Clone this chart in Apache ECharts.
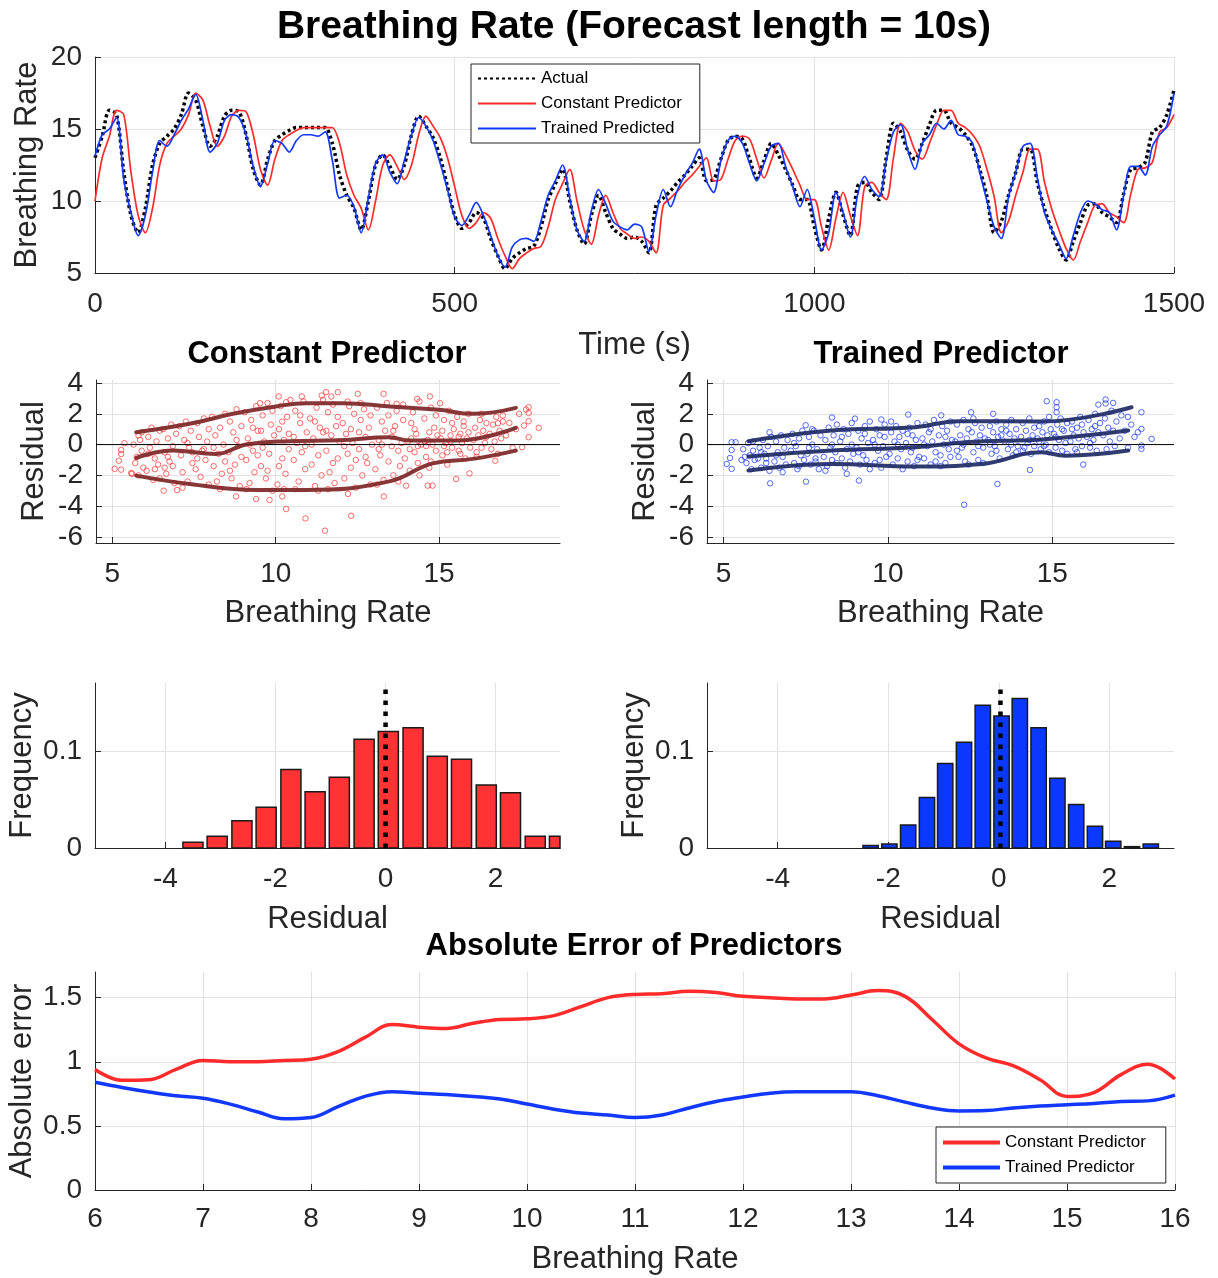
<!DOCTYPE html>
<html>
<head>
<meta charset="utf-8">
<script src="https://cdn.jsdelivr.net/npm/echarts@6/dist/echarts.min.js"></script>
<style>
  html, body { margin: 0; padding: 0; background: #ffffff; }
  #chart { width: 1218px; height: 1278px; }
</style>
</head>
<body>
<div id="chart"></div>
<script>
// ---- breathing-rate time series, one sample every 10 s from 0 to 1500 s ----
const sampleStep = 10;
const actualRate = [
  13.0, 14.5, 16.3, 16.0, 12.0, 9.0, 7.8, 9.5, 12.5, 14.0,
  14.5, 15.0, 16.0, 17.5, 17.0, 15.2, 13.8, 14.5, 15.9, 16.3,
  16.2, 14.6, 12.2, 11.1, 12.9, 14.2, 14.6, 14.9, 15.1, 15.1,
  15.1, 15.1, 15.1, 14.0, 11.8, 10.4, 9.5, 8.0, 10.0, 12.5,
  13.2, 12.4, 11.5, 12.5, 14.6, 15.9, 15.2, 14.4, 13.0, 11.0,
  9.0, 8.1, 8.5, 9.2, 8.8, 7.4, 6.2, 5.3, 6.0, 6.4,
  6.7, 6.85, 8.2, 10.1, 11.2, 12.2, 10.0, 8.0, 7.0, 9.0,
  10.4, 9.2, 8.1, 7.7, 7.4, 7.5, 7.2, 6.4, 9.7, 10.2,
  10.7, 11.3, 11.8, 12.4, 13.0, 11.4, 11.5, 12.9, 14.2, 14.5,
  14.3, 12.9, 11.6, 12.8, 14.0, 13.2, 12.2, 11.1, 10.1, 10.1,
  8.2, 6.6, 8.8, 10.6, 9.0, 7.6, 11.0, 11.3, 10.6, 10.1,
  13.0, 15.4, 14.8, 13.5, 12.9, 14.0, 15.3, 16.3, 16.3, 15.4,
  15.1, 14.6, 13.8, 12.2, 10.3, 7.8, 8.6, 10.4, 12.0, 13.6,
  13.6, 11.3, 9.45, 8.0, 6.7, 5.9, 7.2, 8.5, 9.7, 9.8,
  9.2, 8.9, 8.5, 10.5, 12.2, 12.3, 12.7, 14.8, 15.1, 16.0,
  17.7
];
const constantRate = [
  10.0, 13.0, 14.5, 16.3, 16.0, 12.0, 9.0, 7.8, 9.5, 12.5,
  14.0, 14.5, 15.0, 16.0, 17.5, 17.0, 15.2, 13.8, 14.5, 15.9,
  16.3, 16.2, 14.6, 12.2, 11.1, 12.9, 14.2, 14.6, 14.9, 15.1,
  15.1, 15.1, 15.1, 15.1, 14.0, 11.8, 10.4, 9.5, 8.0, 10.0,
  12.5, 13.2, 12.4, 11.5, 12.5, 14.6, 15.9, 15.2, 14.4, 13.0,
  11.0, 9.0, 8.1, 8.5, 9.2, 8.8, 7.4, 6.2, 5.3, 6.0,
  6.4, 6.7, 6.85, 8.2, 10.1, 11.2, 12.2, 10.0, 8.0, 7.0,
  9.0, 10.4, 9.2, 8.1, 7.7, 7.4, 7.5, 7.2, 6.4, 9.7,
  10.2, 10.7, 11.3, 11.8, 12.4, 13.0, 11.4, 11.5, 12.9, 14.2,
  14.5, 14.3, 12.9, 11.6, 12.8, 14.0, 13.2, 12.2, 11.1, 10.1,
  10.1, 8.2, 6.6, 8.8, 10.6, 9.0, 7.6, 11.0, 11.3, 10.6,
  10.1, 13.0, 15.4, 14.8, 13.5, 12.9, 14.0, 15.3, 16.3, 16.3,
  15.4, 15.1, 14.6, 13.8, 12.2, 10.3, 7.8, 8.6, 10.4, 12.0,
  13.6, 13.6, 11.3, 9.45, 8.0, 6.7, 5.9, 7.2, 8.5, 9.7,
  9.8, 9.2, 8.9, 8.5, 10.5, 12.2, 12.3, 12.7, 14.8, 15.1,
  16.0
];
const trainedRate = [
  13.1, 14.6, 15.0, 15.8, 11.5, 9.2, 7.6, 9.0, 12.0, 14.2,
  13.8, 14.6, 15.6, 16.4, 17.4, 15.6, 13.4, 14.0, 15.6, 16.0,
  15.8, 14.6, 12.4, 11.0, 12.6, 14.2, 14.0, 13.4, 14.2, 14.6,
  14.6, 14.5, 14.8, 12.8, 10.2, 10.4, 9.6, 7.8, 10.2, 12.6,
  13.2, 12.0, 11.2, 12.8, 14.6, 15.8, 15.2, 14.2, 12.6, 10.8,
  8.9, 8.3, 9.0, 9.9, 9.0, 7.6, 6.2, 5.4, 6.8, 7.3,
  7.4, 7.2, 8.6, 10.4, 11.4, 12.5, 10.2, 8.0, 7.2, 9.3,
  10.8, 9.8, 8.6, 8.2, 8.0, 8.4, 8.2, 6.5, 9.0, 10.8,
  9.6, 10.8, 11.8, 12.6, 13.6, 11.4, 10.6, 12.8, 14.2, 14.5,
  14.0, 12.6, 11.4, 12.6, 13.8, 14.0, 12.4, 11.0, 9.6, 10.8,
  8.8, 6.6, 7.8, 10.6, 9.2, 7.5, 10.4, 11.7, 10.8, 10.3,
  12.8, 14.8, 15.3, 13.5, 12.2, 14.0, 14.6, 15.4, 15.0, 15.6,
  14.6, 14.5, 14.0, 12.0, 10.0, 8.2, 7.4, 10.3, 12.0, 13.8,
  14.0, 11.6, 9.2, 8.0, 7.0, 6.0, 7.6, 9.2, 10.0, 9.8,
  9.4, 9.2, 8.0, 10.4, 12.4, 12.4, 11.8, 13.8, 14.6, 15.2,
  17.5
];
const timeTicks = { min: 0, max: 1500, step: 500 };

// ---- residual vs breathing rate: [rate, residual] ----
const constantResiduals = [
  [5.6,-1.9],[5.7,-1.2],[5.75,-0.8],[5.8,0.6],[5.85,0.3],[5.9,-0.4],[5.95,-1.5],[5.65,0.0],[5.8,-2.0],[5.9,0.8],
  [6.05,-1.7],[6.1,0.5],[6.15,-0.2],[6.2,1.1],[6.25,-2.3],[6.3,-0.9],[6.35,0.2],[6.4,-1.3],[6.45,0.9],[6.1,-0.6],[6.3,-1.6],[6.45,-2.2],
  [6.55,1.0],[6.6,-0.5],[6.65,-1.9],[6.7,0.4],[6.75,-1.1],[6.8,1.3],[6.85,-0.1],[6.9,-2.5],[6.95,0.7],[6.6,-1.5],[6.85,-1.4],[6.7,-0.8],
  [7.05,1.2],[7.1,-0.7],[7.15,-1.8],[7.2,0.3],[7.25,1.5],[7.3,-2.4],[7.35,-0.2],[7.4,0.9],[7.45,-1.2],[7.15,-2.8],[7.3,0.1],[7.45,-0.5],
  [7.55,-1.6],[7.6,1.4],[7.65,0.5],[7.7,-2.1],[7.75,-0.4],[7.8,1.7],[7.85,-1.0],[7.9,0.2],[7.95,-2.6],[7.6,-0.9],[7.8,-0.3],[7.95,1.0],
  [8.05,1.8],[8.1,-1.4],[8.15,0.6],[8.2,-2.4],[8.25,-0.6],[8.3,1.1],[8.35,-1.9],[8.4,0.0],[8.45,2.0],[8.1,-0.2],[8.3,-2.9],[8.45,-1.1],
  [8.55,-0.5],[8.6,1.5],[8.65,-2.2],[8.7,0.8],[8.75,-1.3],[8.8,2.3],[8.85,-0.1],[8.9,-2.7],[8.95,1.2],[8.6,-1.7],[8.8,0.3],[8.95,-0.8],
  [9.05,2.1],[9.1,-1.0],[9.15,0.4],[9.2,-2.5],[9.25,1.6],[9.3,-0.4],[9.35,-1.8],[9.4,2.5],[9.45,0.9],[9.1,-2.9],[9.3,1.1],[9.45,-0.7],[9.2,0.0],
  [9.55,-1.4],[9.6,1.9],[9.65,0.2],[9.7,-2.2],[9.75,2.7],[9.8,-0.6],[9.85,1.3],[9.9,-3.0],[9.95,0.6],[9.6,-0.2],[9.75,-1.7],[9.9,2.2],[9.55,0.9],
  [10.05,-2.6],[10.1,1.0],[10.15,2.5],[10.2,-0.9],[10.25,0.3],[10.3,-1.9],[10.35,1.8],[10.4,-0.3],[10.45,2.9],[10.1,-1.4],[10.25,-2.9],[10.4,0.7],[10.2,1.5],
  [10.55,-1.0],[10.6,2.2],[10.65,0.1],[10.7,-2.4],[10.75,1.4],[10.8,-0.5],[10.85,2.8],[10.9,-1.6],[10.95,0.8],[10.6,-2.9],[10.75,1.9],[10.9,-0.1],[10.55,0.5],
  [11.05,1.7],[11.1,-1.3],[11.15,0.4],[11.2,-2.7],[11.25,2.4],[11.3,-0.7],[11.35,1.1],[11.4,-2.0],[11.45,2.9],[11.1,0.0],[11.3,-3.0],[11.45,0.8],[11.2,1.5],
  [11.55,-0.4],[11.6,2.1],[11.65,-1.8],[11.7,0.6],[11.75,2.6],[11.8,-2.5],[11.85,1.2],[11.9,-0.9],[11.95,0.2],[11.6,-2.9],[11.75,-1.2],[11.9,1.8],[11.55,0.9],
  [12.05,1.4],[12.1,-2.2],[12.15,0.7],[12.2,-0.6],[12.25,2.5],[12.3,-1.5],[12.35,0.1],[12.4,2.0],[12.45,-2.8],[12.1,-0.1],[12.3,1.0],[12.45,-1.0],[12.2,2.8],
  [12.55,-0.3],[12.6,1.6],[12.65,-2.0],[12.7,2.3],[12.75,0.5],[12.8,-1.2],[12.85,1.1],[12.9,-2.6],[12.95,0.0],[12.6,2.7],[12.75,-0.8],[12.9,1.9],[12.55,0.8],
  [13.05,-1.6],[13.1,2.4],[13.15,0.3],[13.2,-0.7],[13.25,1.5],[13.3,-2.3],[13.35,0.9],[13.4,2.7],[13.45,-1.1],[13.1,-2.6],[13.25,0.0],[13.45,1.9],[13.15,-0.3],
  [13.55,0.5],[13.6,-2.0],[13.65,1.2],[13.7,2.2],[13.75,-0.4],[13.8,-1.4],[13.85,0.1],[13.9,2.6],[13.95,-0.9],[13.6,0.9],[13.75,-2.4],[13.9,1.6],[13.55,-0.1],
  [14.05,0.2],[14.1,-1.7],[14.15,1.4],[14.2,2.1],[14.25,-0.5],[14.3,0.7],[14.35,-1.2],[14.4,2.8],[14.45,0.0],[14.1,-0.3],[14.25,1.0],[14.4,-2.0],[14.15,0.4],[14.35,-0.1],
  [14.55,1.7],[14.6,-0.8],[14.65,0.3],[14.7,-1.5],[14.75,2.4],[14.8,0.0],[14.85,1.1],[14.9,-0.4],[14.95,0.6],[14.6,-0.1],[14.75,-1.1],[14.9,1.9],[14.55,0.2],[14.7,0.8],
  [15.05,0.4],[15.1,-0.7],[15.15,1.6],[15.2,0.1],[15.25,-1.3],[15.3,2.2],[15.35,0.6],[15.4,-0.2],[15.45,1.0],[15.1,0.9],[15.25,-0.5],[15.4,1.4],[15.15,-0.1],[15.35,0.2],
  [15.55,1.8],[15.6,-0.4],[15.65,0.7],[15.7,0.1],[15.75,1.2],[15.8,-0.9],[15.85,0.4],[15.9,2.0],[15.95,-0.2],[15.6,0.5],[15.75,1.5],[15.9,0.8],[15.65,-0.6],
  [16.05,0.3],[16.1,1.1],[16.15,-0.5],[16.2,0.6],[16.25,1.6],[16.3,-0.2],[16.35,0.9],[16.4,0.1],[16.45,1.4],[16.15,-0.8],[16.3,2.0],[16.45,0.5],
  [16.55,0.7],[16.6,-0.3],[16.65,1.3],[16.7,0.2],[16.75,1.8],[16.8,-0.6],[16.85,0.9],[16.9,0.4],[16.95,1.5],
  [17.05,0.6],[17.15,1.4],[17.25,-0.2],[17.35,1.0],[17.45,2.0],
  [11.51,-5.6],[10.91,-4.8],[12.31,-4.63],[10.32,-4.19],[12.21,-3.21],[13.31,-3.37],[9.4,-3.54],[9.81,-3.6],[8.79,-3.37],[10.2,-3.37],
  [6.57,-3.0],[6.98,-2.96],[5.07,-1.58],[5.27,-1.63],[5.58,-1.85],[5.2,-1.05],[5.27,-0.61],[5.27,-0.35],[5.37,0.09],
  [15.52,-2.24],[15.93,-1.87],[14.65,-2.67],[14.8,-2.67],[13.99,-2.67],[16.72,-1.05],[17.54,-0.17],
  [17.66,2.28],[17.74,2.43],[17.74,2.06],[17.74,1.52],[18.05,1.09],[17.74,0.48],[17.6,1.24],[16.95,1.89],[16.8,1.39],
  [11.41,3.19],[11.54,3.41],[11.9,3.41],[12.51,3.3],[13.3,3.3],[10.09,3.13],[10.8,3.13],[9.52,2.69],[14.33,2.97],[14.72,3.13],
  [15.03,2.69],[13.7,2.65],[11.7,3.13],[10.32,2.76]
];
const trainedResiduals = [
  [5.6,-0.3],[5.7,-1.2],[5.75,0.1],[5.8,-0.7],[5.85,-1.6],[5.9,-0.4],[5.95,-1.0],[5.65,-0.8],[5.9,0.2],
  [6.05,-0.9],[6.1,-0.2],[6.15,-1.5],[6.2,0.3],[6.25,-0.6],[6.3,-1.2],[6.35,-0.1],[6.4,-1.7],[6.45,0.5],[6.15,-0.5],[6.3,-0.9],
  [6.55,-1.1],[6.6,0.2],[6.65,-0.5],[6.7,-1.5],[6.75,0.6],[6.8,-0.8],[6.85,-0.2],[6.9,-1.3],[6.95,0.3],[6.6,-0.7],[6.8,-1.8],
  [7.05,-0.4],[7.1,0.7],[7.15,-1.2],[7.2,-0.1],[7.25,-1.6],[7.3,0.4],[7.35,-0.7],[7.4,0.9],[7.45,-1.0],[7.15,0.1],[7.3,-1.4],
  [7.55,-0.6],[7.6,0.5],[7.65,-1.3],[7.7,0.0],[7.75,0.9],[7.8,-0.9],[7.85,-0.3],[7.9,-1.6],[7.95,0.6],[7.6,-0.2],[7.8,-1.1],[7.7,1.0],
  [8.05,-0.8],[8.1,0.3],[8.15,-1.4],[8.2,1.1],[8.25,-0.2],[8.3,-1.0],[8.35,0.6],[8.4,-0.5],[8.45,1.3],[8.1,-1.7],[8.3,0.0],[8.45,-1.2],
  [8.55,0.2],[8.6,-0.9],[8.65,1.0],[8.7,-1.5],[8.75,-0.3],[8.8,0.7],[8.85,-1.1],[8.9,1.4],[8.95,-0.6],[8.6,0.5],[8.75,-1.9],[8.9,0.0],
  [9.05,-0.2],[9.1,0.9],[9.15,-1.3],[9.2,0.4],[9.25,-0.7],[9.3,1.2],[9.35,-1.0],[9.4,0.1],[9.45,-1.6],[9.1,-0.5],[9.3,0.7],[9.45,1.5],
  [9.55,0.3],[9.6,-1.2],[9.65,1.0],[9.7,-0.4],[9.75,0.6],[9.8,-1.5],[9.85,-0.1],[9.9,1.3],[9.95,-0.8],[9.6,0.0],[9.75,-1.0],[9.9,0.5],
  [10.05,-0.6],[10.1,0.8],[10.15,-1.3],[10.2,0.2],[10.25,1.2],[10.3,-0.9],[10.35,0.5],[10.4,-0.3],[10.45,-1.6],[10.1,1.5],[10.3,0.0],[10.45,0.9],
  [10.55,0.1],[10.6,-1.1],[10.65,1.1],[10.7,-0.5],[10.75,0.6],[10.8,-1.4],[10.85,0.3],[10.9,1.4],[10.95,-0.8],[10.6,0.7],[10.75,-0.2],[10.9,-1.0],
  [11.05,0.4],[11.1,-0.9],[11.15,1.3],[11.2,-0.1],[11.25,0.8],[11.3,-1.3],[11.35,0.2],[11.4,1.6],[11.45,-0.5],[11.1,0.0],[11.3,1.0],[11.45,-1.1],
  [11.55,0.6],[11.6,-0.7],[11.65,1.2],[11.7,0.0],[11.75,-1.2],[11.8,0.9],[11.85,-0.3],[11.9,1.5],[11.95,0.3],[11.6,-1.4],[11.75,0.5],[11.9,-0.8],
  [12.05,0.2],[12.1,1.3],[12.15,-0.8],[12.2,0.6],[12.25,-0.2],[12.3,1.6],[12.35,-1.1],[12.4,0.4],[12.45,1.0],[12.1,-0.4],[12.3,0.0],[12.45,-1.3],
  [12.55,0.8],[12.6,-0.5],[12.65,1.4],[12.7,0.2],[12.75,-1.0],[12.8,0.6],[12.85,1.1],[12.9,-0.2],[12.95,0.4],[12.6,1.7],[12.75,-0.1],[12.9,-1.2],
  [13.05,0.3],[13.1,1.2],[13.15,-0.6],[13.2,0.8],[13.25,-0.1],[13.3,1.5],[13.35,0.5],[13.4,-0.9],[13.45,1.0],[13.1,0.0],[13.3,-0.4],[13.45,0.6],
  [13.55,0.2],[13.6,1.3],[13.65,-0.3],[13.7,0.7],[13.75,1.6],[13.8,-0.7],[13.85,0.4],[13.9,1.0],[13.95,-0.1],[13.6,0.9],[13.75,0.0],[13.9,-0.5],
  [14.05,0.5],[14.1,1.4],[14.15,-0.2],[14.2,0.9],[14.25,0.1],[14.3,1.7],[14.35,-0.6],[14.4,0.6],[14.45,1.1],[14.1,-0.4],[14.3,0.3],[14.45,-0.1],
  [14.55,0.4],[14.6,1.2],[14.65,-0.3],[14.7,0.8],[14.75,1.5],[14.8,0.0],[14.85,0.6],[14.9,-0.5],[14.95,1.0],[14.6,0.2],[14.75,-0.1],[14.9,1.8],
  [15.05,0.7],[15.1,-0.2],[15.15,1.3],[15.2,0.3],[15.25,1.7],[15.3,-0.4],[15.35,0.9],[15.4,0.1],[15.45,1.4],[15.1,0.5],[15.3,1.0],[15.45,-0.6],
  [15.55,0.2],[15.6,1.5],[15.65,0.6],[15.7,-0.3],[15.75,1.1],[15.8,0.4],[15.85,1.8],[15.9,-0.1],[15.95,0.8],[15.6,1.0],[15.75,-0.5],[15.9,1.3],
  [16.05,0.5],[16.1,1.6],[16.15,-0.2],[16.2,1.0],[16.25,0.3],[16.3,2.0],[16.35,-0.4],[16.4,0.8],[16.45,1.4],[16.15,0.1],[16.3,1.2],
  [16.55,0.6],[16.6,1.7],[16.65,-0.3],[16.7,1.1],[16.75,0.2],[16.8,2.2],[16.85,0.9],[16.9,-0.1],[16.95,1.5],
  [17.05,0.4],[17.1,1.9],[17.2,0.9],[17.3,-0.2],[17.4,1.3],
  [12.32,-3.91],[13.33,-2.56],[7.51,-2.41],[6.42,-2.52],[9.12,-2.34],[5.1,-1.26],[5.2,-0.87],[5.25,-1.58],[5.25,0.15],[5.37,0.15],
  [5.25,-0.35],[5.55,-1.0],[14.83,2.82],[15.13,2.76],[15.13,2.43],[15.13,2.1],[16.62,2.93],[16.62,2.67],[16.85,2.71],[16.4,2.6],
  [17.71,2.1],[18.02,0.37],[17.71,1.02],[17.6,0.8],[17.71,-0.06],[17.71,-0.28],[17.5,0.5],[17.3,1.8],[15.94,-1.3],[14.32,-1.65],
  [12.53,2.1],[13.2,2.0],[10.62,1.95],[9.0,1.69],[8.3,1.76],[7.5,1.26],[9.8,1.63],[6.4,0.8],[11.62,1.9]
];
// smoothed residual bands (upper / median / lower)
const constantUpperBand = [[5.73,0.8],[7.36,1.35],[8.69,2.0],[10.0,2.48],[10.93,2.69],[12.05,2.69],[13.48,2.48],[15.0,2.26],[16.03,2.0],[17.35,2.39]];
const constantMedianBand = [[5.73,-0.87],[6.85,-0.39],[8.17,-0.61],[9.09,0.0],[10.41,0.22],[11.94,0.28],[13.48,0.48],[14.09,0.26],[15.52,0.26],[17.35,1.09]];
const constantLowerBand = [[5.73,-2.02],[7.36,-2.56],[9.4,-2.95],[10.93,-2.95],[13.48,-2.39],[14.8,-1.22],[16.03,-0.93],[17.35,-0.39]];
const trainedUpperBand = [[5.76,0.22],[8.29,0.91],[10.83,1.13],[12.14,1.52],[14.67,1.5],[17.41,2.43]];
const trainedMedianBand = [[5.76,-0.78],[8.29,-0.39],[10.83,-0.17],[12.35,0.15],[14.88,0.37],[17.31,0.91]];
const trainedLowerBand = [[5.76,-1.69],[8.29,-1.26],[10.83,-1.43],[12.85,-1.26],[14.67,-0.5],[15.39,-0.72],[17.31,-0.39]];

// ---- residual histograms (probability per bin) ----
const constantBinWidth = 0.445;
const constantBinCenters = [-3.50,-3.06,-2.61,-2.17,-1.72,-1.28,-0.84,-0.39,0.05,0.50,0.94,1.38,1.83,2.27,2.72,3.16];
const constantBinFreq    = [0.006,0.012,0.028,0.042,0.081,0.058,0.073,0.112,0.120,0.124,0.0945,0.0915,0.065,0.057,0.012,0.012];
const trainedBinWidth = 0.338;
const trainedBinCenters  = [-2.32,-1.98,-1.64,-1.30,-0.97,-0.63,-0.29,0.05,0.38,0.72,1.06,1.40,1.74,2.07,2.41,2.75];
const trainedBinFreq     = [0.0027,0.004,0.0237,0.052,0.087,0.109,0.147,0.136,0.154,0.124,0.0718,0.0447,0.0223,0.0069,0.0014,0.004];
const constantResidualMark = 0.0;
const trainedResidualMark = 0.03;

// ---- absolute error against breathing rate ----
const errorRate = [6,6.25,6.5,6.75,7,7.25,7.5,7.75,8,8.25,8.5,8.75,9,9.25,9.5,9.75,10,10.25,10.5,10.75,11,11.25,11.5,11.75,12,12.25,12.5,12.75,13,13.25,13.5,13.75,14,14.25,14.5,14.75,15,15.25,15.5,15.75,16];
const constantAbsError = [0.94,0.855,0.86,0.94,1.01,1.0,1.0,1.01,1.02,1.08,1.19,1.29,1.27,1.26,1.3,1.33,1.335,1.36,1.43,1.5,1.525,1.53,1.55,1.54,1.51,1.5,1.49,1.49,1.52,1.555,1.51,1.33,1.14,1.03,0.97,0.86,0.73,0.76,0.9,0.98,0.865];
const trainedAbsError  = [0.84,0.8,0.765,0.735,0.716,0.67,0.61,0.555,0.565,0.65,0.73,0.766,0.755,0.745,0.73,0.71,0.67,0.63,0.6,0.585,0.565,0.585,0.64,0.69,0.725,0.755,0.766,0.766,0.766,0.735,0.685,0.64,0.617,0.62,0.64,0.655,0.665,0.675,0.69,0.695,0.74];

// ---- styling ----
const FONT = '"Liberation Sans", Arial, Helvetica, sans-serif';
const INK = '#262626';
const GRID = '#e2e2e2';
const RED = '#ff2b2b';
const BLUE = '#1238ff';

const pairs = (xs, ys) => xs.map((x, i) => [x, ys[i]]);
const timeAxisValues = actualRate.map((_, i) => i * sampleStep);
const plainNumber = (v) => String(v);

function valueAxis(o) {
  return {
    type: 'value',
    gridIndex: o.grid,
    min: o.min,
    max: o.max,
    interval: o.interval,
    splitNumber: o.splitNumber,
    name: o.name,
    nameLocation: 'middle',
    nameGap: o.nameGap,
    nameMoveOverlap: false,
    nameTextStyle: { fontFamily: FONT, fontSize: 31, color: INK },
    axisLine: { show: true, onZero: false, lineStyle: { color: INK, width: 1 } },
    axisTick: { show: true, inside: true, length: 6, lineStyle: { color: INK, width: 1 } },
    axisLabel: {
      fontFamily: FONT, fontSize: 28, color: INK, margin: o.margin,
      formatter: plainNumber,
      showMinLabel: o.showMinLabel, showMaxLabel: o.showMaxLabel
    },
    splitLine: {
      show: true,
      showMinLine: o.minLine !== false,
      showMaxLine: o.maxLine !== false,
      lineStyle: { color: GRID, width: 1 }
    }
  };
}

function gridAt(left, top, width, height) {
  return { left: left, top: top, width: width, height: height, containLabel: false, outerBoundsMode: 'none' };
}

function titleAt(text, cx, top, size) {
  return {
    text: text, left: cx, top: top, textAlign: 'center', padding: 0,
    textStyle: { fontFamily: FONT, fontSize: size, fontWeight: 'bold', color: '#000' }
  };
}

function bandLine(data, g, color) {
  return {
    type: 'line', xAxisIndex: g, yAxisIndex: g, data: data, smooth: 0.45,
    symbol: 'none', silent: true, z: 4,
    lineStyle: { color: color, width: 4, cap: 'round' }
  };
}

// histogram bars drawn in axis units and clipped to the plot area
function histogramItem(binWidth, fill) {
  const barFraction = 0.82;
  return function (params, api) {
    const c = api.value(0);
    const h = api.value(1);
    const half = binWidth * barFraction / 2;
    const p0 = api.coord([c - half, 0]);
    const p1 = api.coord([c + half, h]);
    const cs = params.coordSys;
    const rect = echarts.graphic.clipRectByRect(
      { x: p0[0], y: p1[1], width: p1[0] - p0[0], height: p0[1] - p1[1] },
      { x: cs.x, y: cs.y, width: cs.width, height: cs.height }
    );
    if (!rect) return null;
    return {
      type: 'rect', shape: rect,
      style: { fill: fill, stroke: '#1a1a1a', lineWidth: 1.5 }
    };
  };
}

const chart = echarts.init(document.getElementById('chart'), null, { renderer: 'canvas' });

const legendText = { fontFamily: FONT, fontSize: 17, color: '#000' };

const option = {
  backgroundColor: '#ffffff',
  animation: false,
  title: [
    titleAt('Breathing Rate (Forecast length = 10s)', 634, 8, 39),
    titleAt('Constant Predictor', 327, 339, 31),
    titleAt('Trained Predictor', 941, 339, 31),
    titleAt('Absolute Error of Predictors', 634, 931, 31)
  ],
  legend: [
    {
      orient: 'vertical', left: 471, top: 64, selectedMode: false,
      itemWidth: 58, itemHeight: 12, itemGap: 8,
      padding: [6, 18, 6, 6],
      borderColor: INK, borderWidth: 1, backgroundColor: '#ffffff',
      itemStyle: { opacity: 0 },
      textStyle: legendText,
      data: [{ name: 'Actual' }, { name: 'Constant Predictor' }, { name: 'Trained Predicted' }]
    },
    {
      orient: 'vertical', left: 936, top: 1127, selectedMode: false,
      itemWidth: 57, itemHeight: 12, itemGap: 8,
      padding: [7, 20, 7, 5],
      borderColor: INK, borderWidth: 1, backgroundColor: '#ffffff',
      itemStyle: { opacity: 0 },
      textStyle: legendText,
      data: [
        { name: 'Constant Predictor', lineStyle: { color: RED, width: 4 } },
        { name: 'Trained Predictor', lineStyle: { color: BLUE, width: 4 } }
      ]
    }
  ],
  grid: [
    gridAt(95, 57, 1079, 216),
    gridAt(96, 380, 464, 163),
    gridAt(707, 380, 467, 163),
    gridAt(95, 683, 465, 165),
    gridAt(707, 683, 467, 165),
    gridAt(95, 972, 1080, 218)
  ],
  xAxis: [
    valueAxis({ grid: 0, min: timeTicks.min, max: timeTicks.max, interval: timeTicks.step, name: 'Time (s)', nameGap: 57, margin: 17 }),
    valueAxis({ grid: 1, min: 4.5, max: 18.7, splitNumber: 3, name: 'Breathing Rate', nameGap: 55, margin: 17,
                showMinLabel: false, showMaxLabel: false, minLine: false, maxLine: false }),
    valueAxis({ grid: 2, min: 4.5, max: 18.7, splitNumber: 3, name: 'Breathing Rate', nameGap: 55, margin: 17,
                showMinLabel: false, showMaxLabel: false, minLine: false, maxLine: false }),
    valueAxis({ grid: 3, min: -5.28, max: 3.17, splitNumber: 4, name: 'Residual', nameGap: 56, margin: 17,
                showMinLabel: false, showMaxLabel: false, minLine: false, maxLine: false }),
    valueAxis({ grid: 4, min: -5.28, max: 3.17, splitNumber: 4, name: 'Residual', nameGap: 56, margin: 17,
                showMinLabel: false, showMaxLabel: false, minLine: false, maxLine: false }),
    valueAxis({ grid: 5, min: 6, max: 16, interval: 1, name: 'Breathing Rate', nameGap: 54, margin: 15 })
  ],
  yAxis: [
    valueAxis({ grid: 0, min: 5, max: 20, interval: 5, name: 'Breathing Rate', nameGap: 52, margin: 13 }),
    valueAxis({ grid: 1, min: -6.4, max: 4.2, splitNumber: 5, name: 'Residual', nameGap: 46, margin: 13,
                showMinLabel: false, showMaxLabel: false, minLine: false, maxLine: false }),
    valueAxis({ grid: 2, min: -6.4, max: 4.2, splitNumber: 5, name: 'Residual', nameGap: 46, margin: 13,
                showMinLabel: false, showMaxLabel: false, minLine: false, maxLine: false }),
    valueAxis({ grid: 3, min: 0, max: 0.17, interval: 0.1, name: 'Frequency', nameGap: 57, margin: 13,
                showMaxLabel: false, maxLine: false }),
    valueAxis({ grid: 4, min: 0, max: 0.17, interval: 0.1, name: 'Frequency', nameGap: 57, margin: 13,
                showMaxLabel: false, maxLine: false }),
    valueAxis({ grid: 5, min: 0, max: 1.7, interval: 0.5, name: 'Absolute error', nameGap: 57, margin: 13,
                showMaxLabel: false, maxLine: false })
  ],
  series: [
    // time series
    {
      name: 'Actual', type: 'line', xAxisIndex: 0, yAxisIndex: 0,
      data: pairs(timeAxisValues, actualRate), smooth: 0.3, symbol: 'none', z: 2,
      itemStyle: { color: '#000000' },
      lineStyle: { color: '#000000', width: 3.5, type: [3, 3], cap: 'butt' }
    },
    {
      name: 'Constant Predictor', type: 'line', xAxisIndex: 0, yAxisIndex: 0,
      data: pairs(timeAxisValues, constantRate), smooth: 0.3, symbol: 'none', z: 3,
      itemStyle: { color: RED },
      lineStyle: { color: RED, width: 1.7 }
    },
    {
      name: 'Trained Predicted', type: 'line', xAxisIndex: 0, yAxisIndex: 0,
      data: pairs(timeAxisValues, trainedRate), smooth: 0.3, symbol: 'none', z: 4,
      itemStyle: { color: BLUE },
      lineStyle: { color: BLUE, width: 1.7 }
    },
    // residual scatter, constant predictor
    {
      name: 'Constant residuals', type: 'scatter', xAxisIndex: 1, yAxisIndex: 1,
      data: constantResiduals, symbol: 'circle', symbolSize: 5.5, z: 2,
      itemStyle: { color: 'rgba(0,0,0,0)', borderColor: 'rgba(255,40,40,0.85)', borderWidth: 1 }
    },
    {
      name: 'Zero residual', type: 'line', xAxisIndex: 1, yAxisIndex: 1,
      data: [[4.5, 0], [18.7, 0]], symbol: 'none', silent: true, z: 3,
      lineStyle: { color: '#000000', width: 1 }
    },
    bandLine(constantUpperBand, 1, 'rgba(125,38,38,0.92)'),
    bandLine(constantMedianBand, 1, 'rgba(125,38,38,0.92)'),
    bandLine(constantLowerBand, 1, 'rgba(125,38,38,0.92)'),
    // residual scatter, trained predictor
    {
      name: 'Trained residuals', type: 'scatter', xAxisIndex: 2, yAxisIndex: 2,
      data: trainedResiduals, symbol: 'circle', symbolSize: 5.5, z: 2,
      itemStyle: { color: 'rgba(0,0,0,0)', borderColor: 'rgba(20,50,255,0.9)', borderWidth: 1 }
    },
    {
      name: 'Zero residual ', type: 'line', xAxisIndex: 2, yAxisIndex: 2,
      data: [[4.5, 0], [18.7, 0]], symbol: 'none', silent: true, z: 3,
      lineStyle: { color: '#000000', width: 1 }
    },
    bandLine(trainedUpperBand, 2, 'rgba(30,42,100,0.92)'),
    bandLine(trainedMedianBand, 2, 'rgba(30,42,100,0.92)'),
    bandLine(trainedLowerBand, 2, 'rgba(30,42,100,0.92)'),
    // histograms
    {
      name: 'Constant histogram', type: 'custom', xAxisIndex: 3, yAxisIndex: 3,
      data: pairs(constantBinCenters, constantBinFreq),
      encode: { x: 0, y: 1 },
      renderItem: histogramItem(constantBinWidth, '#ff3333')
    },
    {
      name: 'Constant mark', type: 'line', xAxisIndex: 3, yAxisIndex: 3,
      data: [[constantResidualMark, 0], [constantResidualMark, 0.17]], symbol: 'none', z: 5,
      lineStyle: { color: '#000000', width: 4.5, type: [4.5, 6.5], cap: 'butt' }
    },
    {
      name: 'Trained histogram', type: 'custom', xAxisIndex: 4, yAxisIndex: 4,
      data: pairs(trainedBinCenters, trainedBinFreq),
      encode: { x: 0, y: 1 },
      renderItem: histogramItem(trainedBinWidth, '#0a38ff')
    },
    {
      name: 'Trained mark', type: 'line', xAxisIndex: 4, yAxisIndex: 4,
      data: [[trainedResidualMark, 0], [trainedResidualMark, 0.17]], symbol: 'none', z: 5,
      lineStyle: { color: '#000000', width: 4.5, type: [4.5, 6.5], cap: 'butt' }
    },
    // absolute error
    {
      name: 'Constant Predictor', type: 'line', xAxisIndex: 5, yAxisIndex: 5,
      data: pairs(errorRate, constantAbsError), smooth: 0.4, symbol: 'none', z: 3,
      itemStyle: { color: RED },
      lineStyle: { color: RED, width: 3.5 }
    },
    {
      name: 'Trained Predictor', type: 'line', xAxisIndex: 5, yAxisIndex: 5,
      data: pairs(errorRate, trainedAbsError), smooth: 0.4, symbol: 'none', z: 3,
      itemStyle: { color: BLUE },
      lineStyle: { color: BLUE, width: 3.5 }
    }
  ]
};

chart.setOption(option);
</script>
</body>
</html>
